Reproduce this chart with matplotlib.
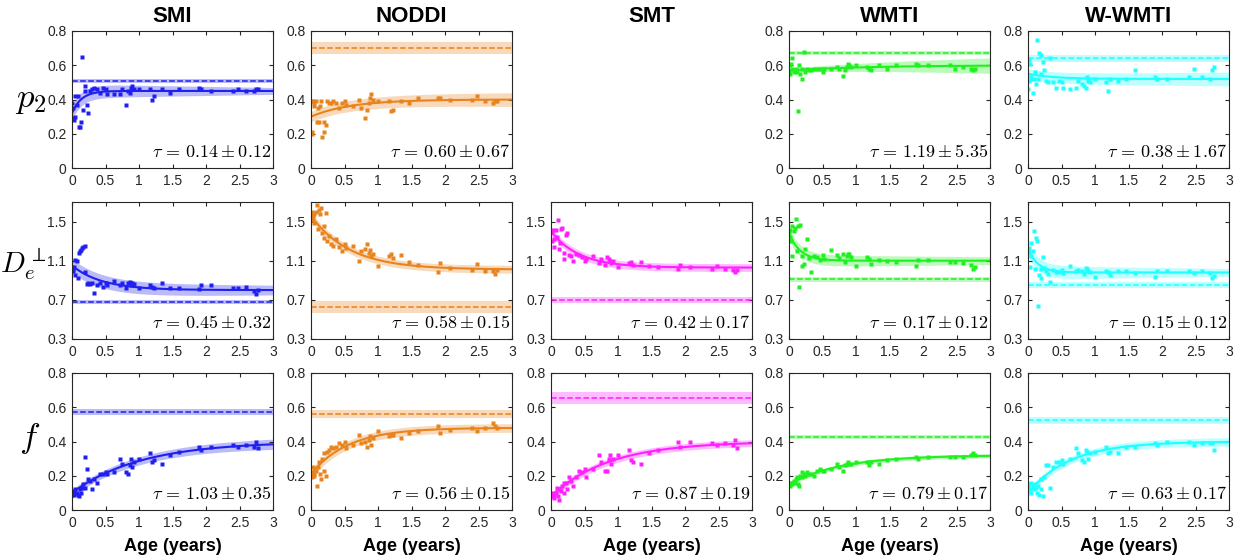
import numpy as np
import matplotlib
matplotlib.use('Agg')
import matplotlib.pyplot as plt

plt.rcParams['font.family'] = ['Liberation Sans', 'DejaVu Sans']
plt.rcParams['mathtext.fontset'] = 'cm'

# ---- data ----
methods = ['SMI', 'NODDI', 'SMT', 'WMTI', 'W-WMTI']
colors = ['#1f1ff0', '#e8841e', '#ff1fff', '#1ff01f', '#1fffff']
row_labels = [r'$p_2$', r'$D_e^{\perp}$', r'$f$']

ages = [0.00, 0.01, 0.02, 0.03, 0.04, 0.05, 0.07, 0.09, 0.10, 0.12,
        0.13, 0.15, 0.17, 0.19, 0.20, 0.22, 0.24, 0.27, 0.30, 0.33,
        0.37, 0.42, 0.47, 0.50, 0.52, 0.63, 0.72, 0.75, 0.80, 0.83,
        0.86, 0.88, 0.90, 0.93, 1.00, 1.17, 1.19, 1.22, 1.35, 1.47,
        1.60, 1.90, 1.93, 2.07, 2.40, 2.48, 2.60, 2.72, 2.75, 2.78]

p2_smi = [0.38, 0.29, 0.35, 0.28, 0.30, 0.42, 0.37, 0.42, 0.24, 0.24,
          0.27, 0.65, 0.34, 0.45, 0.48, 0.37, 0.32, 0.45, 0.46, 0.47,
          0.46, 0.44, 0.47, 0.46, 0.43, 0.43, 0.43, 0.46, 0.37, 0.45,
          0.44, 0.47, 0.48, 0.46, 0.46, 0.46, 0.40, 0.42, 0.46, 0.44,
          0.46, 0.47, 0.46, 0.45, 0.45, 0.46, 0.45, 0.45, 0.46, 0.46]
p2_noddi = [0.39, 0.21, 0.20, 0.39, 0.36, 0.38, 0.39, 0.27, 0.35, 0.27,
            0.36, 0.39, 0.18, 0.21, 0.27, 0.25, 0.39, 0.38, 0.38, 0.39,
            0.38, 0.35, 0.38, 0.39, 0.37, 0.36, 0.40, 0.35, 0.29, 0.34,
            0.38, 0.41, 0.43, 0.40, 0.39, 0.39, 0.33, 0.34, 0.39, 0.38,
            0.41, 0.41, 0.41, 0.40, 0.40, 0.42, 0.39, 0.38, 0.39, 0.39]
p2_wmti = [0.56, 0.60, 0.55, 0.61, 0.64, 0.58, 0.56, 0.57, 0.58, 0.56,
           0.33, 0.60, 0.55, 0.52, 0.58, 0.68, 0.56, 0.58, 0.57, 0.57,
           0.58, 0.58, 0.58, 0.56, 0.58, 0.58, 0.59, 0.58, 0.54, 0.57,
           0.59, 0.61, 0.60, 0.59, 0.60, 0.59, 0.58, 0.57, 0.60, 0.58,
           0.60, 0.61, 0.60, 0.60, 0.60, 0.58, 0.59, 0.58, 0.57, 0.58]
p2_wwmti = [0.46, 0.51, 0.63, 0.61, 0.52, 0.54, 0.44, 0.52, 0.56, 0.49,
            0.75, 0.52, 0.67, 0.66, 0.55, 0.62, 0.57, 0.51, 0.50, 0.64,
            0.50, 0.47, 0.51, 0.50, 0.47, 0.46, 0.47, 0.51, 0.49, 0.48,
            0.47, 0.53, 0.51, 0.50, 0.52, 0.50, 0.45, 0.52, 0.51, 0.52,
            0.57, 0.53, 0.52, 0.52, 0.53, 0.58, 0.53, 0.52, 0.57, 0.59]

de_smi = [1.00, 1.02, 0.99, 1.04, 1.11, 0.95, 1.10, 0.92, 1.18, 1.20,
          1.21, 1.23, 1.24, 0.98, 1.25, 0.86, 0.87, 0.86, 0.87, 0.77,
          0.85, 0.87, 0.83, 0.87, 0.85, 0.89, 0.85, 0.87, 0.82, 0.87,
          0.88, 0.85, 0.87, 0.86, 0.82, 0.85, 0.83, 0.82, 0.87, 0.82,
          0.82, 0.81, 0.85, 0.85, 0.82, 0.82, 0.83, 0.79, 0.76, 0.80]
de_noddi = [1.57, 1.52, 1.60, 1.55, 1.58, 1.49, 1.60, 1.67, 1.42, 1.62,
            1.58, 1.64, 1.38, 1.45, 1.33, 1.59, 1.30, 1.35, 1.27, 1.25,
            1.32, 1.24, 1.20, 1.27, 1.23, 1.25, 1.10, 1.20, 1.22, 1.27,
            1.18, 1.21, 1.15, 1.17, 1.05, 1.15, 1.17, 1.13, 1.16, 1.09,
            1.06, 0.98, 1.08, 1.03, 1.01, 1.07, 0.99, 1.00, 0.96, 1.01]
de_smt = [1.39, 1.30, 1.40, 1.41, 1.32, 1.24, 1.41, 1.34, 1.52, 1.22,
          1.28, 1.42, 1.43, 1.12, 1.18, 1.36, 1.38, 1.16, 1.15, 1.10,
          1.17, 1.16, 1.14, 1.10, 1.12, 1.15, 1.08, 1.12, 1.06, 1.14,
          1.12, 1.10, 1.08, 1.10, 1.04, 1.08, 1.09, 1.06, 1.09, 1.05,
          1.04, 1.02, 1.06, 1.04, 1.02, 1.05, 1.02, 1.01, 0.98, 1.01]
de_wmti = [1.39, 1.41, 1.34, 1.30, 1.15, 1.45, 1.40, 1.43, 1.53, 1.20,
           1.45, 0.83, 1.47, 1.05, 1.15, 1.07, 1.22, 1.32, 1.13, 0.98,
           1.15, 1.14, 1.11, 1.16, 1.12, 1.21, 1.16, 1.13, 1.17, 1.09,
           1.15, 1.17, 1.17, 1.14, 1.05, 1.14, 1.12, 1.07, 1.11, 1.10,
           1.09, 1.05, 1.11, 1.11, 1.09, 1.09, 1.08, 1.06, 1.02, 1.04]
de_wwmti = [1.22, 1.19, 1.23, 1.04, 1.15, 1.28, 1.20, 1.40, 1.02, 1.33,
            1.30, 0.64, 0.95, 0.92, 1.02, 1.14, 1.03, 1.00, 0.96, 0.88,
            1.01, 0.98, 0.98, 1.01, 0.97, 1.05, 1.00, 1.01, 0.99, 0.96,
            1.03, 1.02, 1.00, 0.98, 0.93, 1.00, 0.98, 0.95, 1.00, 1.00,
            0.97, 0.93, 1.00, 1.00, 1.00, 0.97, 0.99, 0.97, 0.92, 0.94]

f_smi = [0.09, 0.10, 0.11, 0.09, 0.10, 0.12, 0.10, 0.09, 0.08, 0.12,
         0.10, 0.13, 0.15, 0.13, 0.31, 0.24, 0.18, 0.17, 0.12, 0.18,
         0.16, 0.21, 0.21, 0.22, 0.21, 0.22, 0.30, 0.27, 0.22, 0.21,
         0.26, 0.30, 0.25, 0.28, 0.30, 0.33, 0.28, 0.29, 0.27, 0.32,
         0.34, 0.37, 0.35, 0.37, 0.38, 0.37, 0.38, 0.37, 0.40, 0.36]
f_noddi = [0.21, 0.19, 0.22, 0.25, 0.20, 0.21, 0.23, 0.14, 0.25, 0.28,
           0.21, 0.18, 0.30, 0.23, 0.33, 0.20, 0.34, 0.35, 0.37, 0.36,
           0.37, 0.39, 0.38, 0.40, 0.36, 0.38, 0.44, 0.39, 0.40, 0.37,
           0.41, 0.43, 0.38, 0.42, 0.46, 0.43, 0.44, 0.44, 0.42, 0.45,
           0.46, 0.49, 0.45, 0.47, 0.48, 0.46, 0.48, 0.51, 0.49, 0.48]
f_smt = [0.09, 0.08, 0.10, 0.08, 0.09, 0.07, 0.10, 0.13, 0.08, 0.06,
         0.12, 0.11, 0.14, 0.16, 0.10, 0.16, 0.12, 0.19, 0.17, 0.14,
         0.19, 0.23, 0.22, 0.24, 0.19, 0.24, 0.32, 0.28, 0.23, 0.23,
         0.30, 0.32, 0.27, 0.30, 0.32, 0.35, 0.29, 0.28, 0.27, 0.33,
         0.35, 0.40, 0.37, 0.40, 0.39, 0.38, 0.39, 0.38, 0.41, 0.36]
f_wmti = [0.15, 0.15, 0.14, 0.16, 0.15, 0.16, 0.17, 0.16, 0.18, 0.19,
          0.15, 0.14, 0.20, 0.22, 0.19, 0.21, 0.20, 0.22, 0.21, 0.21,
          0.20, 0.23, 0.24, 0.23, 0.23, 0.24, 0.27, 0.25, 0.23, 0.26,
          0.27, 0.28, 0.27, 0.27, 0.28, 0.28, 0.26, 0.28, 0.27, 0.29,
          0.30, 0.31, 0.30, 0.31, 0.31, 0.31, 0.31, 0.32, 0.33, 0.32]
f_wwmti = [0.14, 0.13, 0.15, 0.12, 0.10, 0.16, 0.14, 0.12, 0.15, 0.13,
           0.10, 0.14, 0.09, 0.12, 0.18, 0.08, 0.19, 0.26, 0.26, 0.13,
           0.25, 0.28, 0.28, 0.29, 0.27, 0.30, 0.36, 0.33, 0.29, 0.28,
           0.35, 0.34, 0.30, 0.33, 0.34, 0.37, 0.33, 0.34, 0.33, 0.37,
           0.37, 0.39, 0.38, 0.40, 0.40, 0.38, 0.39, 0.39, 0.39, 0.35]

# values per row, per method (None = panel not shown)
values = [
    [p2_smi, p2_noddi, None, p2_wmti, p2_wwmti],
    [de_smi, de_noddi, de_smt, de_wmti, de_wwmti],
    [f_smi, f_noddi, f_smt, f_wmti, f_wwmti],
]
# exponential fit: start value, plateau, tau, tau sd, band half-width at 0 and 3
fits = [
    [(0.32, 0.45, 0.14, 0.12, 0.04, 0.02), (0.30, 0.40, 0.60, 0.67, 0.03, 0.04), None,
     (0.57, 0.60, 1.19, 5.35, 0.012, 0.045), (0.55, 0.52, 0.38, 1.67, 0.03, 0.04)],
    [(1.05, 0.80, 0.45, 0.32, 0.07, 0.05), (1.56, 1.01, 0.58, 0.15, 0.04, 0.04),
     (1.40, 1.03, 0.42, 0.17, 0.04, 0.04), (1.38, 1.10, 0.17, 0.12, 0.06, 0.04),
     (1.22, 0.98, 0.15, 0.12, 0.07, 0.04)],
    [(0.10, 0.40, 1.03, 0.35, 0.02, 0.03), (0.21, 0.48, 0.56, 0.15, 0.025, 0.025),
     (0.08, 0.40, 0.87, 0.19, 0.02, 0.02), (0.15, 0.32, 0.79, 0.17, 0.012, 0.012),
     (0.10, 0.40, 0.63, 0.17, 0.02, 0.025)],
]
# adult reference: mean and sd
refs = [
    [(0.51, 0.012), (0.70, 0.035), None, (0.67, 0.012), (0.64, 0.02)],
    [(0.68, 0.02), (0.63, 0.06), (0.70, 0.03), (0.91, 0.025), (0.85, 0.03)],
    [(0.57, 0.018), (0.56, 0.025), (0.655, 0.035), (0.425, 0.012), (0.525, 0.02)],
]

fig = plt.figure(figsize=(12.42, 5.56), dpi=100)
W, H = 1242.0, 556.0
lefts = [72, 311, 551, 789, 1028]
tops = [31, 202, 373]
aw, ah = 201, 137

tt = np.linspace(0, 3, 200)
for r in range(3):
    for c in range(5):
        if values[r][c] is None:
            continue
        ax = fig.add_axes([lefts[c] / W, 1 - (tops[r] + ah) / H, aw / W, ah / H])
        col = colors[c]
        m, s = refs[r][c]
        ax.axhspan(m - s, m + s, color=col, alpha=0.3, lw=0)
        ax.axhline(m, color=col, ls='--', lw=1.1)
        y0, yinf, tau, tsd, b0, b1 = fits[r][c]
        yy = yinf - (yinf - y0) * np.exp(-tt / tau)
        bw = b0 + (b1 - b0) * tt / 3
        ax.fill_between(tt, yy - bw, yy + bw, color=col, alpha=0.3, lw=0)
        ax.plot(tt, yy, color=col, lw=1.5)
        ax.plot(ages, values[r][c], 's', color=col, ms=2.6, mec='none')
        ax.text(0.99, 0.05, r'$\tau\,=\,%.2f \pm %.2f$' % (tau, tsd), transform=ax.transAxes,
                ha='right', va='bottom', fontsize=13)
        ax.set_xlim(0, 3)
        ax.set_xticks(np.arange(0, 3.01, 0.5))
        ax.set_xticklabels(['0', '0.5', '1', '1.5', '2', '2.5', '3'])
        if r == 1:
            ax.set_ylim(0.3, 1.7)
            ax.set_yticks([0.3, 0.7, 1.1, 1.5])
        else:
            ax.set_ylim(0, 0.8)
            ax.set_yticks([0, 0.2, 0.4, 0.6, 0.8])
            ax.set_yticklabels(['0', '0.2', '0.4', '0.6', '0.8'])
        ax.tick_params(direction='in', top=True, right=True, labelsize=10,
                       colors='#262626', length=3, width=0.8, pad=4)
        for sp in ax.spines.values():
            sp.set_color('#262626')
            sp.set_linewidth(0.8)
        if r == 2:
            ax.set_xlabel('Age (years)', fontsize=13, fontweight='bold', labelpad=6)

for c in range(5):
    fig.text((lefts[c] + aw / 2) / W, 1 - 16 / H, methods[c], ha='center', va='center',
             fontsize=16, fontweight='bold')

fig.text(31 / W, 1 - 100 / H, row_labels[0], ha='center', va='center', fontsize=25)
fig.text(23 / W, 1 - 264 / H, row_labels[1], ha='center', va='center', fontsize=21)
fig.text(30 / W, 1 - 438 / H, row_labels[2], ha='center', va='center', fontsize=25)

fig.savefig('out.png', dpi=100)
